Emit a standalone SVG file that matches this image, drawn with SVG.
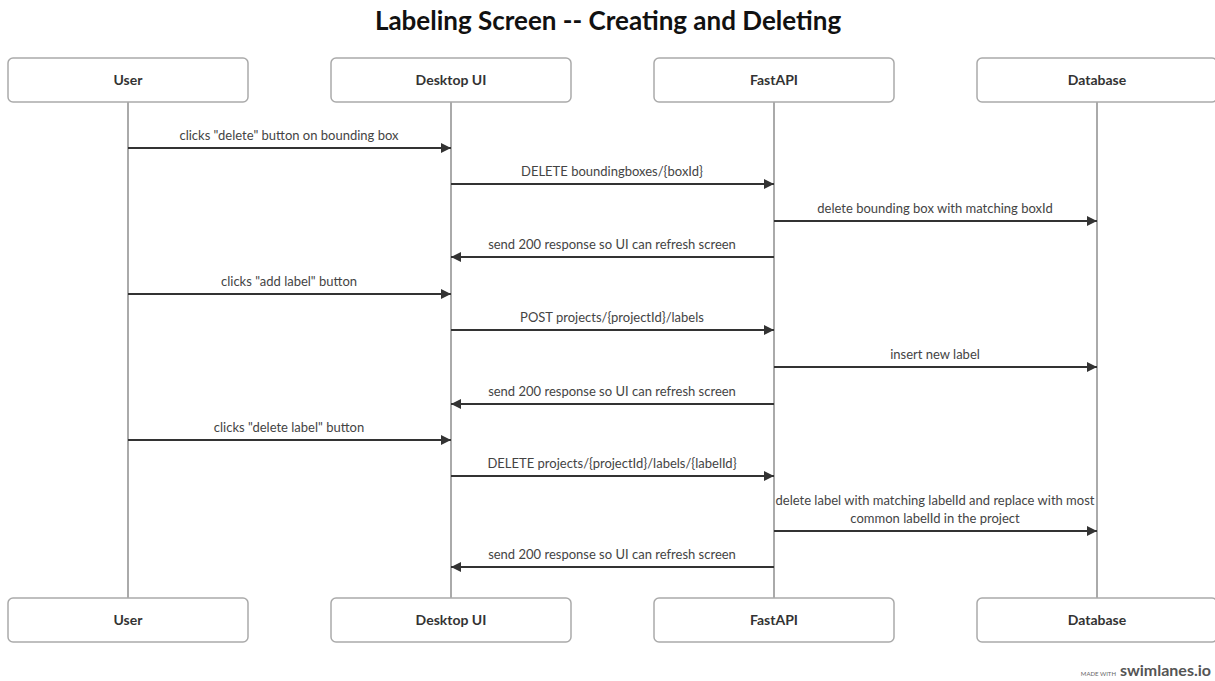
<svg xmlns="http://www.w3.org/2000/svg" width="1215" height="681" viewBox="0 0 1215 681">
  <style>
    .title { font-family: Lato, "Noto Sans", sans-serif; font-size: 26px; font-weight: 700; fill: #111; }
    .actor rect { fill: #fff; stroke: #aaa; stroke-width: 1.5; }
    .actor text { font-family: Lato, "Noto Sans", sans-serif; font-size: 14px; font-weight: 700; fill: #333; text-anchor: middle; }
    .life { stroke: #aaa; stroke-width: 2; }
    .msg line { stroke: #333; stroke-width: 2; }
    .msg text { font-family: Lato, "Noto Sans", sans-serif; font-size: 13px; fill: #444; text-anchor: middle; }
    .brand-small { font-family: Lato, "Noto Sans", sans-serif; font-size: 6px; fill: #666; text-anchor: end; }
    .brand { font-family: Lato, "Noto Sans", sans-serif; font-size: 16px; font-weight: 700; fill: #555; text-anchor: end; }
  </style>
  <defs>
    <marker id="arrow" viewBox="0 0 10 10" refX="10" refY="5" markerWidth="5" markerHeight="5" orient="auto" markerUnits="strokeWidth">
      <path d="M0,0 L10,5 L0,10 z" fill="#333"/>
    </marker>
  </defs>

  <rect width="1215" height="681" fill="#fff"/>

  <text class="title" x="608" y="30" text-anchor="middle">Labeling Screen -- Creating and Deleting</text>

  <!-- lifelines -->
  <g id="lifelines">
    <line class="life" x1="128" y1="102" x2="128" y2="598"/>
    <line class="life" x1="451" y1="102" x2="451" y2="598"/>
    <line class="life" x1="774" y1="102" x2="774" y2="598"/>
    <line class="life" x1="1097" y1="102" x2="1097" y2="598"/>
  </g>

  <!-- participants, top -->
  <g id="user-top" class="actor"><rect x="8" y="58" width="240" height="44" rx="5"/><text x="128" y="85">User</text></g>
  <g id="desktop-top" class="actor"><rect x="331" y="58" width="240" height="44" rx="5"/><text x="451" y="85">Desktop UI</text></g>
  <g id="fastapi-top" class="actor"><rect x="654" y="58" width="240" height="44" rx="5"/><text x="774" y="85">FastAPI</text></g>
  <g id="database-top" class="actor"><rect x="977" y="58" width="240" height="44" rx="5"/><text x="1097" y="85">Database</text></g>

  <!-- participants, bottom -->
  <g id="user-bottom" class="actor"><rect x="8" y="598" width="240" height="44" rx="5"/><text x="128" y="625">User</text></g>
  <g id="desktop-bottom" class="actor"><rect x="331" y="598" width="240" height="44" rx="5"/><text x="451" y="625">Desktop UI</text></g>
  <g id="fastapi-bottom" class="actor"><rect x="654" y="598" width="240" height="44" rx="5"/><text x="774" y="625">FastAPI</text></g>
  <g id="database-bottom" class="actor"><rect x="977" y="598" width="240" height="44" rx="5"/><text x="1097" y="625">Database</text></g>

  <!-- messages -->
  <g id="connectors" class="msg">
    <text x="289" y="140">clicks "delete" button on bounding box</text>
    <line x1="128" y1="148" x2="451" y2="148" marker-end="url(#arrow)"/>

    <text x="612" y="176">DELETE boundingboxes/{boxId}</text>
    <line x1="451" y1="184" x2="774" y2="184" marker-end="url(#arrow)"/>

    <text x="935" y="213">delete bounding box with matching boxId</text>
    <line x1="774" y1="221" x2="1097" y2="221" marker-end="url(#arrow)"/>

    <text x="612" y="249">send 200 response so UI can refresh screen</text>
    <line x1="774" y1="257" x2="451" y2="257" marker-end="url(#arrow)"/>

    <text x="289" y="286">clicks "add label" button</text>
    <line x1="128" y1="294" x2="451" y2="294" marker-end="url(#arrow)"/>

    <text x="612" y="322">POST projects/{projectId}/labels</text>
    <line x1="451" y1="330" x2="774" y2="330" marker-end="url(#arrow)"/>

    <text x="935" y="359">insert new label</text>
    <line x1="774" y1="367" x2="1097" y2="367" marker-end="url(#arrow)"/>

    <text x="612" y="396">send 200 response so UI can refresh screen</text>
    <line x1="774" y1="404" x2="451" y2="404" marker-end="url(#arrow)"/>

    <text x="289" y="432">clicks "delete label" button</text>
    <line x1="128" y1="440" x2="451" y2="440" marker-end="url(#arrow)"/>

    <text x="612" y="468">DELETE projects/{projectId}/labels/{labelId}</text>
    <line x1="451" y1="476" x2="774" y2="476" marker-end="url(#arrow)"/>

    <text x="935" y="505">delete label with matching labelId and replace with most</text>
    <text x="935" y="523">common labelId in the project</text>
    <line x1="774" y1="531" x2="1097" y2="531" marker-end="url(#arrow)"/>

    <text x="612" y="559">send 200 response so UI can refresh screen</text>
    <line x1="774" y1="567" x2="451" y2="567" marker-end="url(#arrow)"/>
  </g>

  <!-- footer mark -->
  <text class="brand-small" x="1116" y="676">MADE WITH</text>
  <text class="brand" x="1211" y="676">swimlanes.io</text>
</svg>
